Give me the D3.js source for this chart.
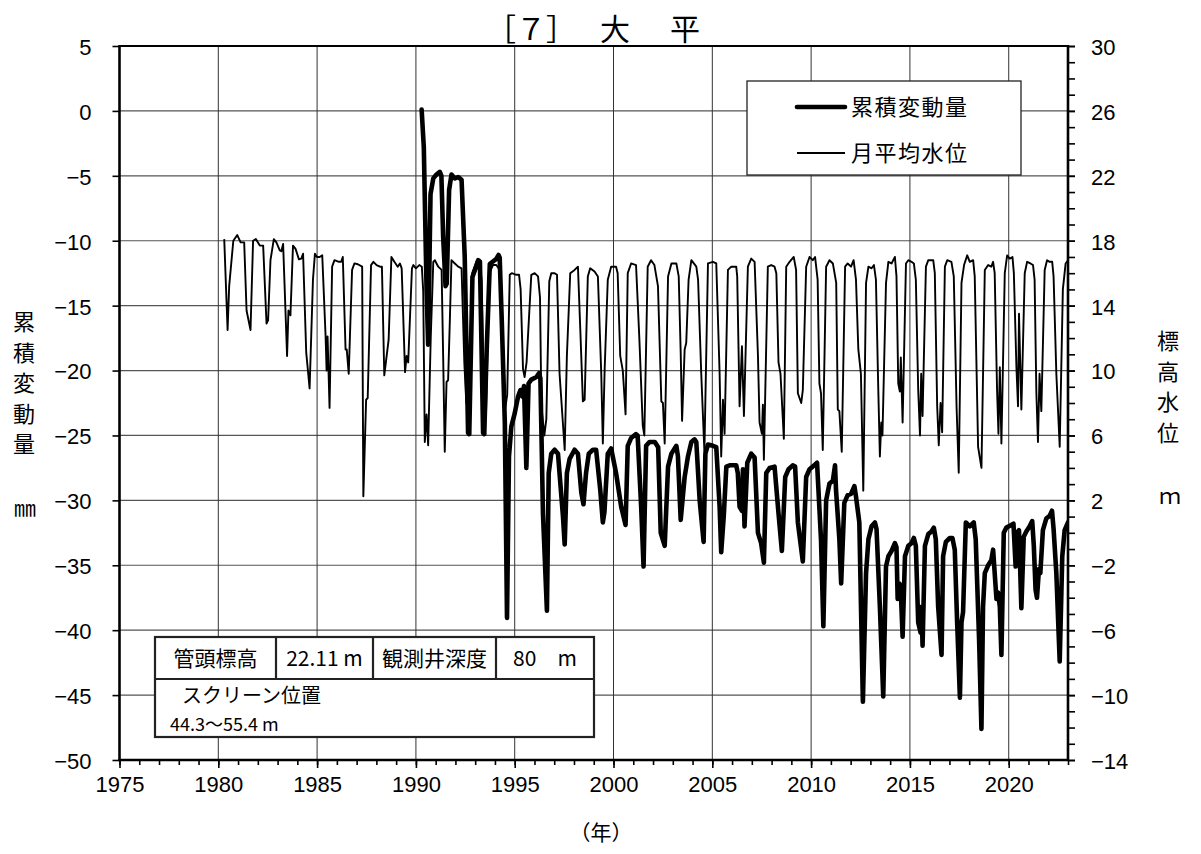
<!DOCTYPE html>
<html><head><meta charset="utf-8">
<script src="https://cdn.jsdelivr.net/npm/d3@7"></script>
<style>
html,body{margin:0;padding:0;background:#fff;}
svg{display:block;}
</style></head><body>
<svg id="c" width="1201" height="854"></svg>
<script>
// ---------- text / ticks ----------
const titleParts = ["［７］", "大", "平"];
const leftTicks = [5, 0, -5, -10, -15, -20, -25, -30, -35, -40, -45, -50];
const rightTicks = [30, 26, 22, 18, 14, 10, 6, 2, -2, -6, -10, -14];
const yearTicks = [1975, 1980, 1985, 1990, 1995, 2000, 2005, 2010, 2015, 2020];
const legendLabels = ["累積変動量", "月平均水位"];
const leftTitle = ["累", "積", "変", "動", "量"];
const leftUnit = "㎜";
const rightTitle = ["標", "高", "水", "位"];
const rightUnit = "ｍ";
const xTitle = "（年）";
const infoRow1 = ["管頭標高", "22.11 m", "観測井深度", "80　m"];
const infoRow2 = ["スクリーン位置", "44.3～55.4 m"];

// ---------- series: monthly mean water level (m, right axis) ----------
const levelPts = [
[1980.30,18.1],[1980.47,12.5],[1980.55,15.2],[1980.76,18.0],[1980.96,18.35],[1981.13,17.9],[1981.31,17.9],[1981.43,13.7],[1981.63,12.5],[1981.76,18.0],[1981.90,18.1],[1982.10,17.7],[1982.27,17.7],[1982.44,12.9],[1982.52,13.1],[1982.64,16.8],[1982.81,18.1],[1982.94,17.9],[1983.11,17.4],[1983.19,17.35],[1983.28,17.8],[1983.48,10.9],[1983.55,13.7],[1983.65,13.4],[1983.78,17.7],[1983.91,17.5],[1984.08,16.85],[1984.20,16.9],[1984.29,17.2],[1984.45,11.1],[1984.62,8.9],[1984.79,15.6],[1984.89,17.2],[1984.99,17.0],[1985.13,17.0],[1985.26,17.1],[1985.43,12.1],[1985.48,10.0],[1985.53,12.1],[1985.63,7.7],[1985.76,16.4],[1985.88,16.8],[1986.10,16.7],[1986.22,16.7],[1986.30,17.0],[1986.44,11.3],[1986.50,11.3],[1986.60,9.8],[1986.77,16.2],[1986.89,16.6],[1987.06,16.55],[1987.28,16.4],[1987.34,2.25],[1987.48,8.2],[1987.56,8.3],[1987.73,16.5],[1987.85,16.7],[1988.01,16.5],[1988.18,16.4],[1988.28,16.4],[1988.40,9.7],[1988.62,11.9],[1988.76,17.0],[1988.91,16.7],[1989.08,16.4],[1989.19,16.6],[1989.28,16.3],[1989.45,9.9],[1989.53,10.9],[1989.61,10.5],[1989.80,16.3],[1989.87,16.5],[1990.00,16.3],[1990.17,16.5],[1990.30,16.4],
[1990.37,14.9],[1990.45,5.6],[1990.54,7.3],[1990.62,5.4],[1990.75,12.0],[1990.88,16.7],[1990.96,16.8],[1991.13,16.4],[1991.30,16.2],[1991.38,10.8],[1991.46,5.0],[1991.55,9.3],[1991.63,9.4],[1991.72,13.2],[1991.80,16.8],[1991.97,16.6],[1992.14,16.4],[1992.31,16.3],[1992.45,10.5],[1992.55,8.0],[1992.70,9.5],[1992.85,16.0],[1993.06,16.7],[1993.23,16.8],[1993.33,15.5],[1993.45,8.0],[1993.55,7.5],[1993.72,16.0],[1993.90,16.5],[1994.07,16.5],[1994.24,16.2],[1994.35,14.0],[1994.50,7.5],[1994.62,8.5],[1994.75,15.9],[1994.85,16.0],[1995.08,15.9],[1995.22,15.9],[1995.30,15.0],[1995.42,10.1],[1995.50,9.6],[1995.60,10.5],[1995.84,15.9],[1996.01,16.0],[1996.18,15.8],
[1996.28,14.5],[1996.35,7.8],[1996.50,6.0],[1996.60,7.0],[1996.75,15.5],[1996.85,16.0],[1997.02,16.0],[1997.14,15.9],[1997.27,9.8],[1997.53,5.1],[1997.64,10.9],[1997.81,16.0],[1998.03,16.2],[1998.20,16.4],[1998.32,12.5],[1998.45,8.1],[1998.54,8.2],[1998.70,15.8],[1998.82,16.3],[1999.04,16.1],[1999.21,15.8],[1999.38,9.8],[1999.46,5.5],[1999.55,10.0],[1999.71,15.6],[1999.88,16.4],[2000.13,16.4],[2000.21,16.0],[2000.34,10.9],[2000.47,10.0],[2000.61,7.3],[2000.72,16.0],[2000.89,16.6],[2001.14,16.5],[2001.31,11.9],[2001.48,6.6],[2001.56,6.0],[2001.73,16.4],[2001.90,16.8],[2002.07,16.5],[2002.25,15.2],[2002.42,8.1],[2002.50,8.0],[2002.59,5.5],[2002.76,15.8],[2002.93,16.6],[2003.18,16.6],[2003.30,15.8],[2003.40,11.1],[2003.47,6.9],[2003.60,11.3],[2003.68,11.7],[2003.80,15.6],[2003.94,16.8],[2004.19,16.4],[2004.28,15.6],[2004.44,9.8],[2004.60,5.0],[2004.78,16.6],[2005.03,16.7],[2005.20,16.6],[2005.37,9.8],[2005.45,4.7],[2005.54,8.2],[2005.62,6.1],[2005.79,16.2],[2005.96,16.4],[2006.21,16.4],[2006.26,15.8],[2006.38,7.8],[2006.50,11.5],[2006.60,7.2],[2006.80,16.4],[2006.97,16.9],[2007.14,16.7],[2007.31,10.9],[2007.39,6.8],[2007.51,6.1],[2007.56,7.9],[2007.61,4.5],[2007.81,16.4],[2007.98,16.5],[2008.15,16.4],[2008.24,16.0],[2008.35,10.5],[2008.45,9.8],[2008.62,5.8],[2008.74,16.4],[2008.91,16.7],[2009.12,17.0],[2009.24,16.2],[2009.33,8.6],[2009.50,8.0],[2009.58,8.8],[2009.75,16.4],[2009.92,17.0],[2010.08,16.8],[2010.20,17.0],[2010.33,15.6],[2010.42,9.2],[2010.50,8.6],[2010.59,5.1],[2010.76,16.4],[2010.93,16.8],[2011.10,16.6],[2011.27,15.4],[2011.35,7.6],[2011.43,7.5],[2011.55,5.0],[2011.72,16.4],[2011.85,16.6],[2012.02,16.4],[2012.15,16.8],[2012.27,15.6],[2012.39,11.3],[2012.52,9.8],[2012.64,2.6],
[2012.78,15.4],[2012.90,16.4],[2013.06,16.3],[2013.18,16.5],[2013.28,15.6],[2013.40,8.8],[2013.48,4.7],[2013.55,6.8],[2013.61,6.0],[2013.79,15.4],[2013.91,16.7],[2014.07,16.6],[2014.24,17.0],[2014.32,15.8],[2014.41,9.2],[2014.49,8.7],[2014.54,10.8],[2014.63,6.8],[2014.80,16.6],[2014.92,16.8],[2015.08,16.7],[2015.20,16.6],[2015.30,15.6],[2015.42,8.8],[2015.51,6.0],[2015.57,9.8],[2015.64,7.2],[2015.81,16.4],[2015.93,16.8],[2016.18,16.8],[2016.26,16.0],[2016.38,7.8],[2016.46,5.4],[2016.55,8.0],[2016.63,6.2],[2016.77,16.4],[2016.89,16.8],[2017.10,16.7],[2017.22,15.8],[2017.36,7.8],[2017.47,3.7],[2017.61,15.4],[2017.74,16.5],[2017.90,17.1],[2018.03,16.7],[2018.20,16.8],[2018.28,15.8],[2018.45,5.3],[2018.62,4.0],[2018.79,16.2],[2018.96,16.5],[2019.12,16.4],[2019.21,16.7],[2019.29,16.0],[2019.41,8.8],[2019.48,6.1],[2019.55,10.2],[2019.63,5.5],[2019.80,16.0],[2019.92,17.1],[2020.05,16.9],[2020.19,17.0],[2020.26,16.0],[2020.39,10.2],[2020.47,7.8],[2020.52,13.5],[2020.64,7.6],[2020.81,16.0],[2020.93,16.7],[2021.10,16.6],[2021.23,16.5],[2021.31,15.6],[2021.40,8.6],[2021.48,5.6],[2021.56,9.8],[2021.65,7.5],[2021.82,16.2],[2021.94,16.8],[2022.07,16.7],[2022.20,16.7],[2022.27,15.8],[2022.41,9.8],[2022.58,5.3],[2022.74,15.0],[2022.88,16.6],[2023.00,16.8]
];

// ---------- series: cumulative displacement (mm, left axis) ----------
const cumPts = [
[1990.29,0.1],[1990.40,-2.8],[1990.54,-13.8],[1990.62,-18.0],[1990.74,-6.4],[1990.88,-5.2],[1991.04,-4.9],[1991.21,-4.7],[1991.29,-5.0],[1991.38,-9.7],[1991.50,-13.5],[1991.56,-13.3],[1991.68,-6.1],[1991.80,-4.9],[1991.97,-5.2],[1992.14,-5.1],[1992.31,-5.3],[1992.47,-11.2],[1992.64,-24.8],[1992.70,-24.9],[1992.86,-12.8],[1992.98,-12.3],[1993.15,-11.5],[1993.24,-11.6],[1993.40,-24.8],[1993.46,-24.9],[1993.57,-18.9],[1993.74,-11.8],[1993.90,-11.6],[1994.07,-11.4],[1994.18,-11.1],[1994.24,-11.3],[1994.35,-16.4],[1994.50,-24.0],[1994.61,-39.05],[1994.71,-26.6],[1994.83,-24.3],[1995.00,-23.3],[1995.17,-22.0],[1995.29,-21.5],[1995.39,-22.0],[1995.47,-21.2],[1995.59,-27.5],[1995.70,-21.0],[1995.84,-20.7],[1996.10,-20.5],[1996.23,-20.2],[1996.30,-20.6],[1996.43,-31.0],[1996.63,-38.5],
[1996.72,-27.9],[1996.85,-26.4],[1997.02,-26.1],[1997.19,-26.4],[1997.44,-31.2],[1997.53,-33.4],[1997.64,-27.9],[1997.78,-26.8],[1998.03,-26.1],[1998.20,-26.4],[1998.37,-29.4],[1998.48,-30.3],[1998.61,-27.9],[1998.75,-26.4],[1998.96,-26.1],[1999.12,-26.1],[1999.33,-29.2],[1999.46,-31.7],[1999.54,-30.9],[1999.71,-26.4],[1999.88,-26.0],[1999.96,-26.6],[2000.13,-27.9],[2000.39,-30.5],[2000.61,-31.9],[2000.72,-25.8],[2000.89,-25.2],[2001.14,-24.9],[2001.22,-25.0],[2001.40,-30.5],[2001.52,-35.1],[2001.65,-25.8],[2001.82,-25.5],[2002.09,-25.5],[2002.26,-25.9],[2002.39,-32.5],[2002.59,-33.5],[2002.76,-27.4],[2002.93,-26.4],[2003.18,-25.8],[2003.26,-26.6],[2003.40,-31.5],[2003.60,-28.2],[2003.77,-26.6],[2003.94,-25.5],[2004.10,-25.3],[2004.19,-25.5],[2004.36,-30.0],[2004.56,-33.2],[2004.65,-26.4],[2004.78,-25.7],[2005.03,-25.8],[2005.20,-25.9],[2005.37,-30.5],[2005.45,-34.0],[2005.58,-31.2],[2005.71,-27.4],[2005.88,-27.3],[2006.21,-27.3],[2006.29,-27.9],[2006.38,-30.5],[2006.50,-30.8],[2006.55,-27.6],[2006.63,-32.0],[2006.77,-27.1],[2006.97,-26.4],[2007.14,-26.7],[2007.31,-32.5],[2007.47,-33.3],[2007.61,-34.8],[2007.73,-27.9],[2007.90,-27.5],[2008.15,-27.4],[2008.35,-31.0],[2008.52,-33.9],[2008.69,-28.2],[2008.86,-27.6],[2009.07,-27.3],[2009.19,-27.4],[2009.33,-31.7],[2009.58,-34.7],[2009.75,-28.2],[2009.92,-27.6],[2010.08,-27.4],[2010.30,-27.1],[2010.50,-33.0],[2010.62,-39.7],[2010.76,-30.0],[2010.93,-28.7],[2011.10,-28.5],[2011.21,-27.3],[2011.26,-29.2],[2011.43,-33.0],[2011.52,-36.4],[2011.68,-30.2],[2011.85,-29.6],[2012.02,-29.5],[2012.19,-28.9],[2012.27,-29.7],[2012.44,-31.7],[2012.62,-45.5],
[2012.78,-35.6],[2012.90,-33.0],[2013.06,-32.0],[2013.23,-31.7],[2013.31,-32.2],[2013.48,-38.2],[2013.65,-45.1],[2013.79,-35.1],[2013.91,-34.3],[2014.07,-33.9],[2014.24,-33.3],[2014.32,-33.6],[2014.38,-37.6],[2014.46,-36.4],[2014.53,-36.6],[2014.63,-40.5],[2014.75,-34.3],[2014.92,-33.5],[2015.08,-33.3],[2015.20,-32.9],[2015.30,-33.5],[2015.42,-39.4],[2015.54,-40.2],[2015.59,-38.2],[2015.64,-41.2],[2015.76,-33.5],[2015.93,-32.6],[2016.09,-32.4],[2016.21,-32.1],[2016.31,-33.0],[2016.43,-38.2],[2016.60,-41.9],[2016.68,-34.3],[2016.82,-33.2],[2017.02,-32.9],[2017.15,-32.9],[2017.27,-33.8],[2017.39,-39.4],[2017.53,-45.2],[2017.61,-39.4],[2017.69,-38.6],[2017.83,-31.7],[2018.03,-32.0],[2018.23,-31.7],[2018.33,-33.0],[2018.50,-40.7],[2018.62,-47.6],[2018.70,-38.2],[2018.79,-35.6],[2018.96,-35.0],[2019.12,-34.6],[2019.21,-33.8],[2019.29,-35.6],[2019.38,-37.6],[2019.46,-37.1],[2019.55,-38.2],[2019.63,-41.9],[2019.75,-32.5],[2019.88,-32.1],[2020.13,-31.9],[2020.24,-31.8],[2020.35,-35.1],[2020.42,-32.5],[2020.52,-32.3],[2020.64,-38.3],[2020.76,-32.8],[2020.89,-32.4],[2021.06,-32.0],[2021.19,-31.6],[2021.27,-33.5],[2021.36,-36.9],[2021.43,-37.5],[2021.53,-35.3],[2021.60,-35.6],[2021.73,-32.3],[2021.90,-31.4],[2022.07,-31.2],[2022.19,-30.8],[2022.27,-32.2],[2022.41,-35.6],[2022.58,-42.4],[2022.71,-34.3],[2022.83,-32.3],[2023.00,-31.7]
];

// ---------- layout ----------
const L = 119.5, R = 1068, T = 46, B = 760;
const jp = "'Noto Sans CJK JP','Noto Sans CJK SC',sans-serif";
const num = "'Liberation Sans Narrow','Arial Narrow','Liberation Sans',Arial,sans-serif";

const svg = d3.select("#c");
svg.append("rect").attr("width", 1201).attr("height", 854).attr("fill", "#fff");

const x = d3.scaleLinear().domain([1975, 2023]).range([L, R]);
const yL = d3.scaleLinear().domain([-50, 5]).range([B, T]);
const yR = d3.scaleLinear().domain([-14, 30]).range([B, T]);

// grid
const grid = svg.append("g");
grid.selectAll("line.h").data(leftTicks.filter(v => v > -50 && v < 5)).enter().append("line")
  .attr("x1", L).attr("x2", R).attr("y1", d => yL(d)).attr("y2", d => yL(d))
  .attr("stroke", "#555").attr("stroke-width", 1.2);
grid.selectAll("line.v").data(yearTicks.filter(v => v > 1975)).enter().append("line")
  .attr("x1", d => x(d)).attr("x2", d => x(d)).attr("y1", T).attr("y2", B)
  .attr("stroke", "#333").attr("stroke-width", 1);

// clip
svg.append("clipPath").attr("id", "clip").append("rect")
  .attr("x", L).attr("y", T).attr("width", R - L).attr("height", B - T);

// series
const lineLevel = d3.line().x(d => x(d[0])).y(d => yR(d[1]));
const lineCum = d3.line().x(d => x(d[0])).y(d => yL(d[1]));
const plot = svg.append("g").attr("clip-path", "url(#clip)");
plot.append("path").datum(levelPts).attr("d", lineLevel)
  .attr("fill", "none").attr("stroke", "#000").attr("stroke-width", 1.9)
  .attr("stroke-linejoin", "round");
plot.append("path").datum(cumPts).attr("d", lineCum)
  .attr("fill", "none").attr("stroke", "#000").attr("stroke-width", 4.6)
  .attr("stroke-linejoin", "round").attr("stroke-linecap", "round");

// axes
function styleAxis(g) {
  g.select(".domain").remove();
  g.selectAll(".tick line").attr("stroke", "#000").attr("stroke-width", 1.6);
  g.selectAll("text").attr("fill", "#000").style("font-family", num).style("font-size", "22px");
}
const fmt = v => (v < 0 ? "−" + Math.abs(v) : "" + v);

svg.append("g").attr("transform", `translate(${L},0)`)
  .call(d3.axisLeft(yL).tickValues(leftTicks).tickFormat(fmt).tickSize(7).tickPadding(21))
  .call(styleAxis)
  .call(g => g.selectAll("text").attr("dy", "0.38em"));

svg.append("g").attr("transform", `translate(${R},0)`)
  .call(d3.axisRight(yR).tickValues(d3.range(-14, 31, 1)).tickFormat("").tickSize(7))
  .call(styleAxis);
svg.append("g").attr("transform", `translate(${R},0)`)
  .call(d3.axisRight(yR).tickValues(rightTicks).tickFormat(fmt).tickSize(7).tickPadding(16))
  .call(styleAxis)
  .call(g => g.selectAll("text").attr("dy", "0.38em"));

svg.append("g").attr("transform", `translate(0,${B})`)
  .call(d3.axisBottom(x).tickValues(d3.range(1975, 2024, 1)).tickFormat("").tickSize(5))
  .call(styleAxis);
svg.append("g").attr("transform", `translate(0,${B})`)
  .call(d3.axisBottom(x).tickValues(yearTicks).tickFormat(d3.format("d")).tickSize(8))
  .call(styleAxis)
  .call(g => g.selectAll("text").attr("y", 32).attr("dy", 0));

// frame
const frame = svg.append("g").attr("stroke", "#000").attr("fill", "none");
frame.append("line").attr("x1", L).attr("x2", R).attr("y1", T).attr("y2", T).attr("stroke-width", 2);
frame.append("line").attr("x1", L).attr("x2", L).attr("y1", T - 1).attr("y2", B + 1).attr("stroke-width", 2.6);
frame.append("line").attr("x1", R).attr("x2", R).attr("y1", T - 1).attr("y2", B + 1).attr("stroke-width", 2.6);
frame.append("line").attr("x1", L - 1).attr("x2", R + 1).attr("y1", B).attr("y2", B).attr("stroke-width", 2.6);

// title
const titleX = [531, 615, 685];
svg.selectAll("text.title").data(titleParts).enter().append("text")
  .attr("x", (d, i) => titleX[i]).attr("y", 40).attr("text-anchor", "middle")
  .style("font-family", jp).style("font-size", "30px").text(d => d);

// axis titles
svg.selectAll("text.lt").data(leftTitle).enter().append("text")
  .attr("x", 24).attr("y", (d, i) => 330 + i * 30.5).attr("text-anchor", "middle")
  .style("font-family", jp).style("font-size", "22px").text(d => d);
svg.append("text").attr("x", 25).attr("y", 516).attr("text-anchor", "middle")
  .style("font-family", jp).style("font-size", "22px").text(leftUnit);
svg.selectAll("text.rt").data(rightTitle).enter().append("text")
  .attr("x", 1168).attr("y", (d, i) => 349 + i * 30.5).attr("text-anchor", "middle")
  .style("font-family", jp).style("font-size", "22px").text(d => d);
svg.append("text").attr("x", 1170).attr("y", 504).attr("text-anchor", "middle")
  .style("font-family", jp).style("font-size", "22px").text(rightUnit);
svg.append("text").attr("x", 601).attr("y", 840).attr("text-anchor", "middle")
  .style("font-family", jp).style("font-size", "21px").text(xTitle);

// legend
const lg = svg.append("g");
lg.append("rect").attr("x", 747).attr("y", 81).attr("width", 274).attr("height", 94)
  .attr("fill", "#fff").attr("stroke", "#222").attr("stroke-width", 1.3);
const legW = [4.6, 1.9];
const legY = [107, 153];
legendLabels.forEach((lab, i) => {
  lg.append("line").attr("x1", 797).attr("x2", 845).attr("y1", legY[i]).attr("y2", legY[i])
    .attr("stroke", "#000").attr("stroke-width", legW[i]).attr("stroke-linecap", i === 0 ? "round" : "butt");
  lg.append("text").attr("x", 851).attr("y", legY[i] + 8)
    .style("font-family", jp).style("font-size", "22px").style("letter-spacing", "1.5px").text(lab);
});

// info table
const tb = svg.append("g");
tb.append("rect").attr("x", 155).attr("y", 637).attr("width", 439).attr("height", 100)
  .attr("fill", "#fff").attr("stroke", "#222").attr("stroke-width", 2.2);
tb.append("line").attr("x1", 155).attr("x2", 594).attr("y1", 679).attr("y2", 679)
  .attr("stroke", "#222").attr("stroke-width", 2.2);
[276, 373, 496].forEach(v => tb.append("line").attr("x1", v).attr("x2", v).attr("y1", 637).attr("y2", 679)
  .attr("stroke", "#222").attr("stroke-width", 2.2));
const cellC = [215.5, 324.5, 434.5, 545];
infoRow1.forEach((t, i) => tb.append("text").attr("x", cellC[i]).attr("y", 666).attr("text-anchor", "middle")
  .style("font-family", jp).style("font-size", "21px").text(t));
tb.append("text").attr("x", 182).attr("y", 703).style("font-family", jp).style("font-size", "20px").text(infoRow2[0]);
tb.append("text").attr("x", 170).attr("y", 731).style("font-family", jp).style("font-size", "18px").text(infoRow2[1]);
</script>
</body></html>
